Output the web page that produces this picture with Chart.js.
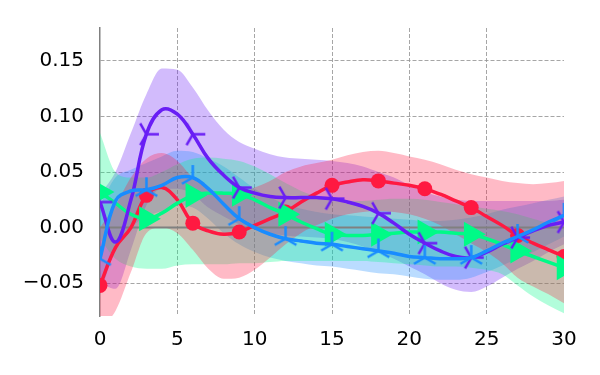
<!DOCTYPE html>
<html>
<head>
<meta charset="utf-8">
<script src="https://cdn.jsdelivr.net/npm/chart.js@4/dist/chart.umd.min.js"></script>
<style>html,body{margin:0;padding:0;background:#fff;}canvas{display:block;}</style>
</head>
<body>
<canvas id="c" width="600" height="375"></canvas>
<script>
const xs = [0,1,2,3,4,5,6,7,8,9,10,11,12,13,14,15,16,17,18,19,20,21,22,23,24,25,26,27,28,29,30];
const xTicks = [0,5,10,15,20,25,30];
const yTicks = [-0.05,0,0.05,0.10,0.15];
const markerEvery = 3;

const redMean  = [-0.052,-0.018,0.000,0.029,0.036,0.025,0.004,-0.003,-0.006,-0.004,0.002,0.008,0.014,0.023,0.031,0.038,0.041,0.043,0.042,0.040,0.038,0.035,0.030,0.024,0.018,0.010,0.002,-0.007,-0.014,-0.020,-0.026];
const redUpper = [0.000,0.020,0.045,0.062,0.067,0.060,0.045,0.035,0.031,0.031,0.036,0.042,0.050,0.055,0.058,0.061,0.065,0.068,0.069,0.067,0.064,0.061,0.057,0.052,0.048,0.045,0.042,0.040,0.039,0.040,0.042];
const redLower = [-0.090,-0.075,-0.040,-0.005,0.000,-0.005,-0.020,-0.037,-0.046,-0.045,-0.038,-0.027,-0.015,-0.005,0.002,0.008,0.012,0.014,0.015,0.014,0.012,0.008,0.002,-0.006,-0.014,-0.022,-0.032,-0.045,-0.053,-0.060,-0.068];

const purMean  = [0.023,-0.013,0.025,0.084,0.106,0.102,0.084,0.062,0.047,0.036,0.031,0.028,0.027,0.027,0.027,0.026,0.023,0.019,0.013,0.004,-0.006,-0.014,-0.021,-0.026,-0.027,-0.022,-0.015,-0.009,-0.003,0.002,0.005];
const purUpper = [0.030,0.050,0.085,0.120,0.143,0.142,0.126,0.105,0.088,0.077,0.071,0.066,0.063,0.062,0.061,0.060,0.058,0.055,0.050,0.045,0.038,0.032,0.028,0.025,0.024,0.024,0.024,0.024,0.024,0.024,0.025];
const purLower = [-0.050,-0.055,-0.020,0.020,0.035,0.035,0.030,0.018,0.010,0.003,-0.002,-0.005,-0.007,-0.008,-0.009,-0.010,-0.013,-0.017,-0.022,-0.028,-0.035,-0.042,-0.050,-0.056,-0.058,-0.053,-0.045,-0.037,-0.030,-0.022,-0.015];

const bluMean  = [-0.028,0.024,0.033,0.034,0.038,0.045,0.045,0.035,0.021,0.008,0.000,-0.006,-0.010,-0.012,-0.014,-0.015,-0.017,-0.019,-0.021,-0.023,-0.026,-0.027,-0.028,-0.028,-0.027,-0.021,-0.014,-0.008,-0.002,0.005,0.011];
const bluUpper = [0.020,0.045,0.052,0.058,0.064,0.069,0.068,0.062,0.055,0.045,0.035,0.027,0.021,0.017,0.014,0.012,0.011,0.010,0.009,0.008,0.007,0.006,0.006,0.007,0.009,0.012,0.016,0.019,0.022,0.025,0.028];
const bluLower = [-0.060,-0.020,0.000,0.010,0.015,0.020,0.018,0.008,-0.005,-0.015,-0.022,-0.027,-0.030,-0.032,-0.034,-0.035,-0.037,-0.039,-0.041,-0.042,-0.044,-0.046,-0.047,-0.047,-0.045,-0.040,-0.034,-0.028,-0.022,-0.015,-0.008];

const grnMean  = [0.032,0.022,0.012,0.008,0.013,0.022,0.029,0.031,0.031,0.030,0.025,0.018,0.012,0.005,-0.001,-0.006,-0.007,-0.007,-0.006,-0.005,-0.004,-0.004,-0.004,-0.005,-0.006,-0.010,-0.015,-0.021,-0.026,-0.031,-0.036];
const grnUpper = [0.085,0.050,0.045,0.045,0.050,0.057,0.062,0.063,0.062,0.060,0.055,0.048,0.040,0.033,0.028,0.025,0.024,0.024,0.025,0.026,0.026,0.025,0.023,0.021,0.019,0.017,0.015,0.012,0.008,0.004,0.000];
const grnLower = [-0.010,-0.028,-0.035,-0.037,-0.037,-0.034,-0.033,-0.033,-0.033,-0.032,-0.032,-0.031,-0.030,-0.030,-0.030,-0.030,-0.030,-0.030,-0.031,-0.032,-0.033,-0.034,-0.035,-0.035,-0.036,-0.038,-0.042,-0.052,-0.062,-0.070,-0.077];

const zeroLine = [0, 0];
const zeroX = [0, 30];

const C = {
  red: 'rgb(255,25,65)', redBand: 'rgba(255,25,65,0.3)',
  pur: 'rgb(105,30,245)', purBand: 'rgba(105,30,245,0.3)',
  blu: 'rgb(25,140,255)', bluBand: 'rgba(25,140,255,0.3)',
  grn: 'rgb(0,250,135)', grnBand: 'rgba(0,250,135,0.3)'
};

function pts(arr) { return xs.map((x, i) => ({x: x, y: arr[i]})); }
function mpts(arr) { return xs.map((x, i) => ({x: x, y: arr[i]})).filter((p, i) => i % markerEvery === 0); }

function triCanvas(color, angles, len, lw) {
  const s = Math.ceil(2 * len + 6);
  const c = document.createElement('canvas');
  c.width = s; c.height = s;
  const g = c.getContext('2d');
  g.strokeStyle = color; g.lineWidth = lw; g.lineCap = 'butt';
  g.beginPath();
  angles.forEach(a => {
    const r = a * Math.PI / 180;
    g.moveTo(s / 2, s / 2);
    g.lineTo(s / 2 + len * Math.cos(r), s / 2 - len * Math.sin(r));
  });
  g.stroke();
  return c;
}
const triRight = triCanvas(C.pur, [0, 120, 240], 12.5, 2.5);
const triUp = triCanvas(C.blu, [90, 210, 330], 12.5, 2.5);

function band(upper, lower, color, order) {
  return [
    {data: pts(upper), borderWidth: 0, pointRadius: 0, fill: '+1', backgroundColor: color, borderColor: 'transparent', tension: 0.4, cubicInterpolationMode: 'monotone', order: order, clip: 0},
    {data: pts(lower), borderWidth: 0, pointRadius: 0, fill: false, borderColor: 'transparent', tension: 0.4, cubicInterpolationMode: 'monotone', order: order, clip: 0}
  ];
}
function line(arr, color, order) {
  return {data: pts(arr), borderColor: color, borderWidth: 3.5, pointRadius: 0, fill: false, tension: 0.4, order: order, clip: 0};
}
function markers(arr, style, color, radius, rotation, order) {
  return {data: mpts(arr), showLine: false, pointStyle: style, pointRadius: radius, pointRotation: rotation,
          pointBackgroundColor: color, pointBorderWidth: 0, pointBorderColor: color, fill: false, order: order, clip: 0};
}

const datasets = [
  markers(bluMean, triUp, C.blu, 8, 0, 1),
  line(bluMean, C.blu, 2),
  markers(purMean, triRight, C.pur, 8, 0, 3),
  line(purMean, C.pur, 4),
  markers(grnMean, 'triangle', C.grn, 14.5, 90, 5),
  line(grnMean, C.grn, 6),
  markers(redMean, 'circle', C.red, 7.5, 0, 7),
  line(redMean, C.red, 8),
  {data: zeroX.map((x, i) => ({x: x, y: zeroLine[i]})), borderColor: 'rgb(128,128,128)', borderWidth: 2, pointRadius: 0, fill: false, order: 9, clip: 0},
  ...band(redUpper, redLower, C.redBand, 10),
  ...band(grnUpper, grnLower, C.grnBand, 11),
  ...band(bluUpper, bluLower, C.bluBand, 12),
  ...band(purUpper, purLower, C.purBand, 13)
];

const font = {family: 'DejaVu Sans', size: 20};
new Chart(document.getElementById('c'), {
  type: 'line',
  data: {datasets: datasets},
  options: {
    responsive: false,
    animation: false,
    devicePixelRatio: 1,
    layout: {padding: {top: 23, right: 36, left: 0, bottom: 0}},
    plugins: {legend: {display: false}, tooltip: {enabled: false}},
    scales: {
      x: {
        type: 'linear', min: 0, max: 30,
        afterBuildTicks: s => { s.ticks = xTicks.map(v => ({value: v})); },
        afterFit: s => { s.height = 59; },
        ticks: {font: font, color: '#000', padding: 12, maxRotation: 0, callback: v => String(v)},
        grid: {drawTicks: false, lineWidth: 1, color: c => (c.tick && (c.tick.value === 0 || c.tick.value === 30)) ? 'transparent' : 'rgba(150,150,150,0.85)'},
        border: {display: false, dash: [4, 2]}
      },
      y: {
        type: 'linear', min: -0.0795, max: 0.1795,
        afterBuildTicks: s => { s.ticks = yTicks.map(v => ({value: v})); },
        afterFit: s => { s.width = 100; },
        ticks: {font: font, color: '#000', padding: 16, callback: v => (v < -1e-9 ? '\u2212' : '') + Math.abs(v).toFixed(2)},
        grid: {drawTicks: false, lineWidth: 1, color: c => (c.tick && Math.abs(c.tick.value) < 1e-9) ? 'transparent' : 'rgba(150,150,150,0.85)'},
        border: {display: true, color: 'rgb(128,128,128)', width: 1.5, dash: [4, 2]}
      }
    }
  }
});
</script>
</body>
</html>
